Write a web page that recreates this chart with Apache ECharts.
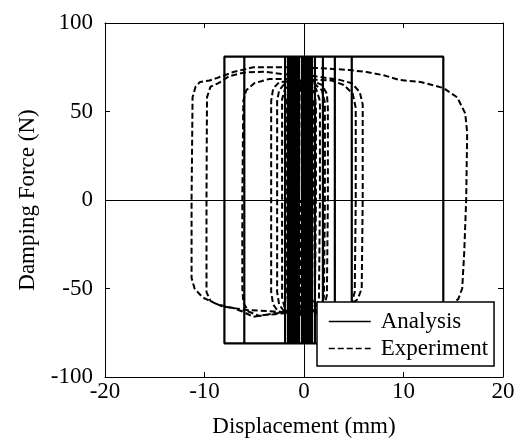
<!DOCTYPE html>
<html>
<head>
<meta charset="utf-8">
<script src="https://cdn.jsdelivr.net/npm/echarts@6/dist/echarts.min.js"></script>
<style>
  html, body { margin: 0; padding: 0; background: #fff; }
  #chart { width: 524px; height: 438px; }
</style>
</head>
<body>
<div id="chart"></div>
<script>
// Axis ranges and tick spacing
const xRange = [-20, 20];
const xStep = 10;
const yRange = [-100, 100];
const yStep = 50;

const seriesNames = ['Analysis', 'Experiment'];

// Analysis (friction model): reversal displacements in mm and the constant force level in N
const analysisTurns = [0, -8, 14, -6, 4.8, -1.9, 3.1, -1.6, 1.9, -1.2, 1.1, -0.9, 0.6, -0.5, 0.3,
  -0.2, 0.8, -1.4, 0.5, -1.0, 0.2, -0.7, 0.0, -0.3];
const analysisForce = 81;

// Experiment: measured displacement (mm) / damping force (N) trace
const experimentTrace = [
  [0.0, -62], [-2.0, -64], [-4.0, -65], [-5.1, -66], [-6.2, -63], [-7.1, -61], [-8.7, -59],
  [-10.2, -55], [-11.0, -50], [-11.3, -44],
  [-11.3, 0], [-11.2, 58], [-10.9, 64], [-10.45, 66.7], [-9.5, 67.5], [-8.7, 69], [-7.1, 72.3],
  [-5.1, 75], [-2.1, 75], [1.6, 74.5], [4.6, 73.4], [6.3, 72.3], [8.0, 70.5], [9.6, 67.8],
  [11.7, 66.7], [14.0, 63.3], [15.4, 58], [16.2, 49], [16.4, 38], [16.3, 0], [16.1, -30],
  [15.9, -50], [15.5, -56], [14.5, -60], [12, -62], [8, -63], [4, -64], [0, -64], [-3, -63],
  [-6, -62], [-8.3, -60], [-9.4, -57], [-9.8, -52],
  [-9.8, 0], [-9.75, 58], [-9.4, 64], [-8.6, 66], [-7.5, 70], [-6, 72], [-4, 72.5], [-2, 71],
  [1, 70], [3.5, 68], [4.8, 66], [5.6, 61], [5.9, 54], [5.9, 0], [5.8, -50], [5.4, -56],
  [4.5, -60], [2.5, -62], [0, -63], [-3, -64], [-4.5, -65.5], [-5.6, -63], [-6.1, -58], [-6.2, -50],
  [-6.2, 0], [-6.1, 56], [-5.8, 62], [-5.0, 66], [-3.5, 68.4], [-1.5, 68.4], [1, 68], [2.8, 67.5],
  [4.0, 65], [4.9, 60], [5.2, 52], [5.2, 0], [5.1, -52], [4.8, -58], [3.5, -62], [1, -63.5],
  [-1.5, -64], [-2.6, -63], [-3.1, -59], [-3.3, -52],
  [-3.3, 0], [-3.3, 56], [-3.1, 63], [-2.5, 66.5], [-1, 67.5], [0.8, 67.5], [1.8, 65], [2.3, 60],
  [2.4, 52], [2.4, 0], [2.3, -54], [2.0, -60], [1, -63], [-1, -64.5], [-2.0, -63], [-2.5, -59], [-2.7, -52],
  [-2.7, 0], [-2.7, 56], [-2.5, 62], [-1.9, 66], [-0.5, 67], [1.0, 66], [1.8, 62], [2.1, 55],
  [2.1, 0], [2.0, -55], [1.6, -61], [0.5, -64], [-1.2, -65], [-1.9, -62], [-2.2, -55],
  [-2.2, 0], [-2.2, 57], [-1.9, 63], [-1.2, 66], [0.3, 66.5], [1.2, 63], [1.6, 56],
  [1.6, 0], [1.5, -56], [1.1, -62], [0, -65], [-1.2, -64], [-1.6, -59], [-1.7, -52],
  [-1.7, 0], [-1.7, 58], [-1.4, 64], [-0.6, 66], [0.6, 65], [1.1, 60], [1.2, 52],
  [1.2, 0], [1.1, -56], [0.7, -62], [-0.3, -65], [-1.0, -62], [-1.3, -56],
  [-1.3, 0], [-1.3, 58], [-1.0, 64], [-0.2, 66], [0.6, 63], [0.9, 56],
  [0.9, 0], [0.8, -58], [0.4, -63], [-0.5, -65], [-0.9, -60], [-1.0, -52],
  [-1.0, 0], [-1.0, 60], [-0.6, 65], [0.2, 65], [0.55, 59], [0.6, 50],
  [0.6, 0], [0.5, -60], [0.1, -64], [-0.5, -63], [-0.7, -55],
  [-0.7, 0], [-0.7, 60], [-0.4, 65], [0.2, 64], [0.4, 56], [0.4, 0],
  [0.35, -60], [0.0, -65], [-0.6, -64], [-1.1, -58], [-1.2, -50],
  [-1.2, 0], [-1.15, 60], [-0.8, 65.5], [-0.1, 66], [0.3, 62], [0.35, 52],
  [0.35, 0], [0.3, -58], [-0.1, -64], [-0.6, -62], [-0.8, -54],
  [-0.8, 0], [-0.8, 58], [-0.5, 64], [0.1, 65], [0.5, 60], [0.7, 50],
  [0.7, 0], [0.6, -58], [0.2, -64], [-0.3, -65], [-0.5, -58],
  [-0.5, 0], [-0.45, 60], [-0.2, 65], [0.1, 63], [0.15, 55],
  [0.15, 0], [0.1, -60], [-0.2, -65], [-0.3, -60], [-0.35, 0]
];

// Friction loop: force is +F while moving right, -F while moving left
function buildAnalysisPath(turns, force) {
  const pts = [];
  for (let i = 0; i < turns.length - 1; i++) {
    const f = turns[i + 1] > turns[i] ? force : -force;
    pts.push([turns[i], f], [turns[i + 1], f]);
  }
  return pts;
}

const FONT = 'Liberation Serif';
const textBase = { fontFamily: FONT, fontSize: 23, color: '#000' };

function axis(position, range, step, extra) {
  return Object.assign({
    type: 'value',
    position: position,
    min: range[0],
    max: range[1],
    interval: step,
    axisLine: { show: true, onZero: false, lineStyle: { color: '#000', width: 1 } },
    axisTick: { show: true, inside: true, length: 5, lineStyle: { color: '#000', width: 1 } },
    splitLine: { show: false },
    axisLabel: { show: false }
  }, extra || {});
}

const chart = echarts.init(document.getElementById('chart'), null, { renderer: 'canvas' });

chart.setOption({
  animation: false,
  backgroundColor: '#fff',
  grid: { left: 105, right: 21, top: 23, bottom: 61, containLabel: false, outerBoundsMode: 'none' },
  xAxis: [
    axis('bottom', xRange, xStep, {
      name: 'Displacement (mm)',
      nameLocation: 'middle',
      nameGap: 38,
      nameTextStyle: textBase,
      axisLabel: Object.assign({ show: true, margin: 3 }, textBase)
    }),
    axis('top', xRange, xStep)
  ],
  yAxis: [
    axis('left', yRange, yStep, {
      name: 'Damping Force (N)',
      nameLocation: 'middle',
      nameGap: 66,
      nameTextStyle: textBase,
      axisLabel: Object.assign({ show: true, margin: 12 }, textBase)
    }),
    axis('right', yRange, yStep)
  ],
  legend: {
    orient: 'vertical',
    left: 317,
    top: 302,
    padding: [8, 6, 6, 11],
    itemWidth: 42,
    itemHeight: 14,
    itemGap: 4,
    borderColor: '#000',
    borderWidth: 1.5,
    borderRadius: 0,
    backgroundColor: '#fff',
    textStyle: Object.assign({ padding: [0, 0, 0, 5] }, textBase),
    itemStyle: { opacity: 0, borderWidth: 0 },
    lineStyle: { width: 1.5 },
    data: seriesNames
  },
  series: [
    {
      name: seriesNames[0],
      type: 'line',
      xAxisIndex: 0,
      yAxisIndex: 0,
      data: buildAnalysisPath(analysisTurns, analysisForce),
      symbol: 'none',
      lineStyle: { color: '#000', width: 2.2 },
      itemStyle: { color: '#000' },
      markLine: {
        silent: true,
        symbol: 'none',
        label: { show: false },
        lineStyle: { color: '#000', width: 1, type: 'solid' },
        data: [{ xAxis: 0 }, { yAxis: 0 }]
      }
    },
    {
      name: seriesNames[1],
      type: 'line',
      xAxisIndex: 0,
      yAxisIndex: 0,
      data: experimentTrace,
      symbol: 'none',
      lineStyle: { color: '#000', width: 2, type: [6, 3] },
      itemStyle: { color: '#000' }
    }
  ]
});
</script>
</body>
</html>
